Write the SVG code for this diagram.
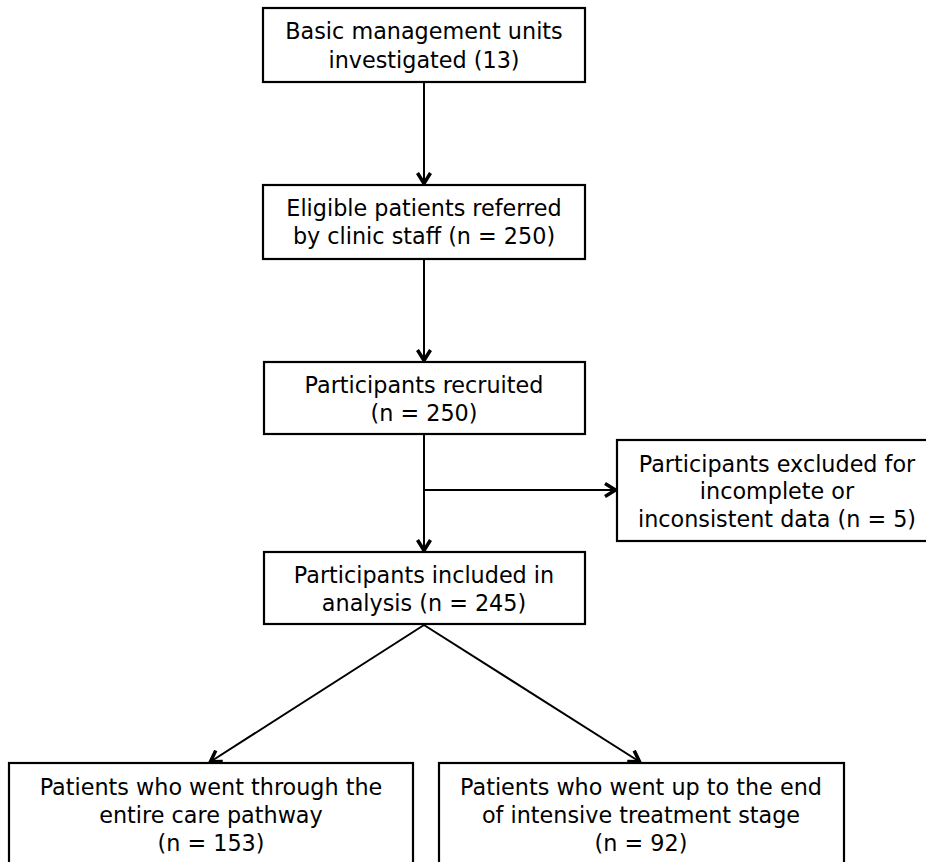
<svg xmlns="http://www.w3.org/2000/svg" width="926" height="862" viewBox="0 0 926 862">
<style>
.box{fill:#fff;stroke:#000;stroke-width:2.2}
.t{font-family:"DejaVu Sans","Liberation Sans",sans-serif;font-size:22.3px;fill:#000;text-anchor:middle}
.c{fill:none;stroke:#000;stroke-width:2}
</style>
<defs>
<marker id="ah" viewBox="0 0 16 16" refX="14" refY="8" markerWidth="16" markerHeight="16" markerUnits="userSpaceOnUse" orient="auto">
<path d="M3,1.5 L13.5,8 L3,14.5" fill="none" stroke="#000" stroke-width="3.5"/>
</marker>
</defs>
<rect width="926" height="862" fill="#fff"/>
<g id="connectors">
<line class="c" x1="424" y1="82" x2="424" y2="184" marker-end="url(#ah)"/>
<line class="c" x1="424" y1="259" x2="424" y2="361" marker-end="url(#ah)"/>
<line class="c" x1="424" y1="434" x2="424" y2="551" marker-end="url(#ah)"/>
<line class="c" x1="424" y1="490" x2="616" y2="490" marker-end="url(#ah)"/>
<line class="c" x1="424" y1="625" x2="210" y2="762" marker-end="url(#ah)"/>
<line class="c" x1="424" y1="625" x2="640" y2="762" marker-end="url(#ah)"/>
</g>
<g id="n1">
<rect class="box" x="263" y="8" width="322" height="74"/>
<text class="t" x="424" y="39">Basic management units</text>
<text class="t" x="424" y="68">investigated (13)</text>
</g>
<g id="n2">
<rect class="box" x="263" y="185" width="322" height="74"/>
<text class="t" x="424" y="216">Eligible patients referred</text>
<text class="t" x="424" y="244">by clinic staff (n = 250)</text>
</g>
<g id="n3">
<rect class="box" x="264" y="362" width="321" height="72"/>
<text class="t" x="424" y="393">Participants recruited</text>
<text class="t" x="424" y="421">(n = 250)</text>
</g>
<g id="n4">
<rect class="box" x="617" y="440" width="332" height="101"/>
<text class="t" x="777" y="472">Participants excluded for</text>
<text class="t" x="777" y="499">incomplete or</text>
<text class="t" x="777" y="527">inconsistent data (n = 5)</text>
</g>
<g id="n5">
<rect class="box" x="264" y="552" width="321" height="72"/>
<text class="t" x="424" y="583">Participants included in</text>
<text class="t" x="424" y="611">analysis (n = 245)</text>
</g>
<g id="n6">
<rect class="box" x="9" y="763" width="404" height="110"/>
<text class="t" x="211" y="795">Patients who went through the</text>
<text class="t" x="211" y="823">entire care pathway</text>
<text class="t" x="211" y="851">(n = 153)</text>
</g>
<g id="n7">
<rect class="box" x="439" y="763" width="405" height="110"/>
<text class="t" x="641" y="795">Patients who went up to the end</text>
<text class="t" x="641" y="823">of intensive treatment stage</text>
<text class="t" x="641" y="851">(n = 92)</text>
</g>
</svg>
